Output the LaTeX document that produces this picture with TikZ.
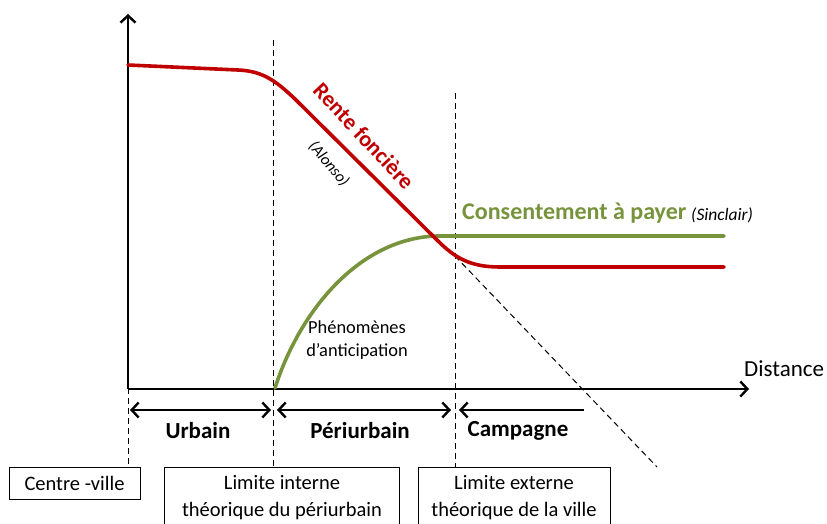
\documentclass[tikz,border=0pt]{standalone}
\usepackage{fontspec}
\setmainfont{Carlito}
\usetikzlibrary{arrows.meta}
\definecolor{rentered}{HTML}{C00000}
\definecolor{paygreen}{HTML}{77933C}
\tikzset{
  axis/.style={line width=2.4pt, -{Straight Barb[length=7pt,width=15pt,line width=2.4pt]}},
  zone/.style={line width=2.4pt, {Straight Barb[length=7pt,width=15pt,line width=2.4pt]}-{Straight Barb[length=7pt,width=15pt,line width=2.4pt]}},
  zoneleft/.style={line width=2.4pt, {Straight Barb[length=7pt,width=15pt,line width=2.4pt]}-},
  guide/.style={line width=1pt, dash pattern=on 6pt off 4pt},
  labelbox/.style={draw, line width=1pt, align=center, font=\fontsize{20.5}{27}\selectfont, inner sep=0pt},
  zonelabel/.style={font=\bfseries\fontsize{23}{27}\selectfont},
  curve/.style={line width=3.6pt, line cap=round},
}
\begin{document}
\begin{tikzpicture}[x=1pt,y=-1pt]
\useasboundingbox (0,0) rectangle (827,524);
% guides
\coordinate (g1t) at (128,388); \coordinate (g1b) at (128,467);
\coordinate (g2t) at (273,40); \coordinate (g2b) at (273,467);
\coordinate (g3t) at (455,93); \coordinate (g3b) at (455,467);
\draw[guide] (g1t) -- (g1b);
\draw[guide] (g2t) -- (g2b);
\draw[guide] (g3t) -- (g3b);
\coordinate (d1) at (455,256); \coordinate (d2) at (657,467);
\draw[guide] (d1) -- (d2);
% axes
\coordinate (o) at (128,389);
\coordinate (ytop) at (128,14);
\coordinate (xend) at (749,389);
\draw[axis] (o) -- (ytop);
\draw[axis] (o) -- (xend);
\node[anchor=west, font=\fontsize{23}{27}\selectfont, inner sep=0pt] (dist) at (744,369) {Distance};
% curves
\draw[curve, paygreen] (275,388) .. controls (300,310) and (360,238) .. (437,236) -- (724,236);
\draw[curve, rentered] (128,65) -- (238,70) .. controls (262,71) and (275,80) .. (295,99) -- (437,240) .. controls (455,258) and (470,267) .. (500,267) -- (724,267);
% curve labels
\node[rentered, rotate=-47, font=\bfseries\fontsize{22.5}{26}\selectfont] (rente) at (364,136) {Rente foncière};
\node[rotate=-50, font=\itshape\fontsize{16}{19}\selectfont] (alonso) at (329,164) {(Alonso)};
\node[paygreen, anchor=west, font=\bfseries\fontsize{24}{28}\selectfont, inner sep=0pt] (cons) at (462,213) {Consentement à payer};
\node[anchor=west, font=\itshape\fontsize{17.5}{20}\selectfont, inner sep=0pt] (sinc) at (691,215) {(Sinclair)};
\node[align=center, font=\fontsize{18.4}{23}\selectfont] (anti) at (357,340) {Phénomènes\\d’anticipation};
% zones
\coordinate (z1a) at (130,410); \coordinate (z1b) at (271,410);
\coordinate (z2a) at (277,410); \coordinate (z2b) at (451,410);
\coordinate (z3a) at (459,410); \coordinate (z3b) at (584,410);
\draw[zone] (z1a) -- (z1b);
\draw[zone] (z2a) -- (z2b);
\draw[zoneleft] (z3a) -- (z3b);
\node[zonelabel] (urb) at (198,431) {Urbain};
\node[zonelabel] (peri) at (360,431) {Périurbain};
\node[zonelabel] (camp) at (518,431) {Campagne};
% boxes
\node[labelbox, minimum width=131pt, minimum height=32pt] (cv) at (74.5,483) {Centre -ville};
\node[labelbox, minimum width=235pt, minimum height=62pt] (li) at (282,498) {Limite interne\\théorique du périurbain};
\node[labelbox, minimum width=192pt, minimum height=62pt] (le) at (514,498) {Limite externe\\théorique de la ville};
\end{tikzpicture}
\end{document}
